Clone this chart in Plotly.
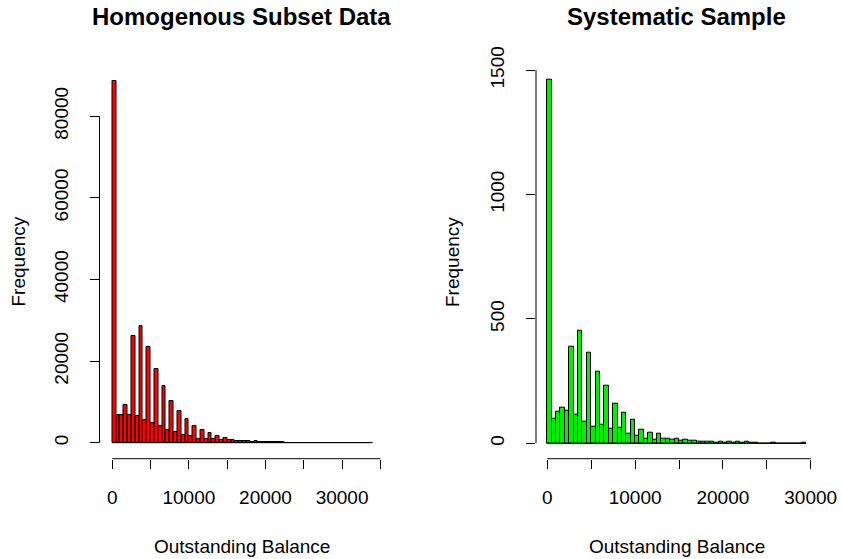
import plotly.graph_objects as go

# ---------------- data ----------------
bin_width = 500

homog_counts = [88700, 6800, 6800, 9250, 6900, 26200, 6500, 28500, 5600, 23400,
                4800, 18050, 4000, 13850, 3150, 10330, 2600, 7720, 1950, 5920,
                1700, 4130, 1000, 3150, 950, 2330, 800, 1650, 650, 1150,
                620, 640, 480, 500, 330, 330, 180, 320, 160, 250,
                140, 130, 80, 70, 60, 50, 40, 30, 30, 20,
                20, 15, 10, 10, 10, 8, 5, 5, 5, 4,
                3, 3, 2, 2, 2, 1, 1, 1]

system_counts = [1460, 100, 127, 145, 133, 390, 114, 454, 88, 364,
                 67, 287, 75, 230, 59, 158, 62, 123, 40, 94,
                 32, 55, 18, 42, 16, 37, 19, 19, 13, 18,
                 12, 15, 10, 10, 8, 8, 5, 7, 4, 6,
                 3, 6, 2, 5, 1, 5, 1, 1, 0, 0,
                 0, 1, 0, 0, 0, 0, 0, 0, 1]

left_xticks = [0, 5000, 10000, 15000, 20000, 25000, 30000, 35000]
left_xtext = ["0", "", "10000", "", "20000", "", "30000", ""]
left_yticks = [0, 20000, 40000, 60000, 80000]
left_ytext = ["0", "20000", "40000", "60000", "80000"]

right_xticks = [0, 5000, 10000, 15000, 20000, 25000, 30000]
right_xtext = ["0", "", "10000", "", "20000", "", "30000"]
right_yticks = [0, 500, 1000, 1500]
right_ytext = ["0", "500", "1000", "1500"]

titles = ["Homogenous Subset Data", "Systematic Sample"]
xlab = "Outstanding Balance"
ylab = "Frequency"
colors = ["#FF0000", "#00EE00"]

# ---------------- figure ----------------
W, H = 842, 559
FONT = "Liberation Sans, Arial, sans-serif"


def fx(px):
    return px / W


def fy(py):
    return (H - py) / H


fig = go.Figure()

for i, (counts, col) in enumerate([(homog_counts, colors[0]), (system_counts, colors[1])]):
    ax = "" if i == 0 else "2"
    centers = [bin_width * (k + 0.5) for k in range(len(counts))]
    fig.add_trace(go.Bar(
        x=centers, y=counts, width=bin_width,
        marker=dict(color=col, line=dict(color="black", width=1)),
        xaxis="x" + ax, yaxis="y" + ax, showlegend=False, hoverinfo="skip"))
    # baseline drawn by zero-height bins in R
    fig.add_trace(go.Scatter(
        x=[0, bin_width * len(counts)], y=[0, 0], mode="lines",
        line=dict(color="black", width=1),
        xaxis="x" + ax, yaxis="y" + ax, showlegend=False, hoverinfo="skip"))

common_ax = dict(showgrid=False, zeroline=False, showline=False, ticks="outside",
                 ticklen=9, tickwidth=1, tickcolor="black", automargin=False,
                 tickfont=dict(family=FONT, size=19, color="black"), fixedrange=True)

fig.update_layout(
    width=W, height=H, margin=dict(l=0, r=0, t=0, b=0, pad=0, autoexpand=False),
    paper_bgcolor="white", plot_bgcolor="white", bargap=0,
    xaxis=dict(domain=[fx(99.5), fx(383.5)], range=[-1670, 35406],
               tickvals=left_xticks, ticktext=left_xtext, ticklabelstandoff=12, anchor="y", **common_ax),
    yaxis=dict(domain=[fy(458.7), fy(66)], range=[-3920, 92290],
               tickvals=left_yticks, ticktext=left_ytext, tickangle=-90, ticklabelstandoff=14,
               anchor="x", **common_ax),
    xaxis2=dict(domain=[fx(536), fx(817)], range=[-1287, 30717],
                tickvals=right_xticks, ticktext=right_xtext, ticklabelstandoff=12, anchor="y2", **common_ax),
    yaxis2=dict(domain=[fy(458.7), fy(65.7)], range=[-62, 1518],
                tickvals=right_yticks, ticktext=right_ytext, tickangle=-90, ticklabelstandoff=14,
                anchor="x2", **common_ax),
)

# axis lines spanning only the tick range (R style)
for xa, ya, xt, yt in [("x", "y", left_xticks, left_yticks), ("x2", "y2", right_xticks, right_yticks)]:
    fig.add_shape(type="line", xref=xa, yref=ya + " domain", x0=min(xt), x1=max(xt), y0=0, y1=0,
                  line=dict(color="black", width=1))
    fig.add_shape(type="line", xref=xa + " domain", yref=ya, x0=0, x1=0, y0=min(yt), y1=max(yt),
                  line=dict(color="black", width=1))

# titles and axis labels
centers_x = [(99.5 + 383.5) / 2, (536 + 817) / 2]
ylab_x = [17.5, 452]
for i in range(2):
    fig.add_annotation(x=fx(centers_x[i]), y=fy(17), xref="paper", yref="paper",
                       text="<b>" + titles[i] + "</b>", showarrow=False,
                       font=dict(family=FONT, size=24, color="black"),
                       xanchor="center", yanchor="middle")
    fig.add_annotation(x=fx(centers_x[i]), y=fy(546), xref="paper", yref="paper",
                       text=xlab, showarrow=False,
                       font=dict(family=FONT, size=19, color="black"),
                       xanchor="center", yanchor="middle")
    fig.add_annotation(x=fx(ylab_x[i]), y=fy(262), xref="paper", yref="paper",
                       text=ylab, showarrow=False, textangle=-90,
                       font=dict(family=FONT, size=19, color="black"),
                       xanchor="center", yanchor="middle")

fig.write_html("out.html")
